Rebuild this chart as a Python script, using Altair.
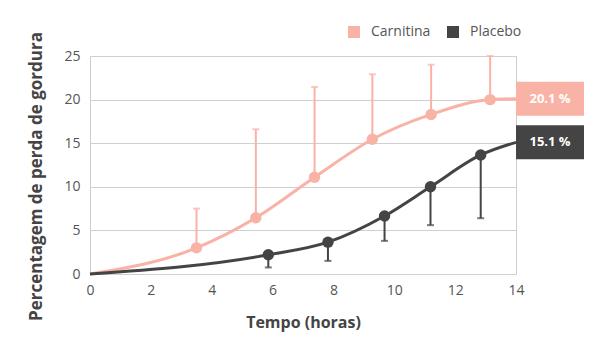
import altair as alt
import pandas as pd

# ---- data ----
series = ["Carnitina", "Placebo"]
colors = ["#F9B2A6", "#444444"]

carn_x = [3.5, 5.45, 7.38, 9.28, 11.21, 13.15]
carn_y = [3.0, 6.45, 11.1, 15.45, 18.3, 20.0]
carn_hi = [7.5, 16.6, 21.45, 22.9, 24.0, 25.0]

plac_x = [5.86, 7.82, 9.68, 11.19, 12.84]
plac_y = [2.2, 3.65, 6.65, 10.0, 13.65]
plac_lo = [0.75, 1.5, 3.8, 5.6, 6.4]

start_x, start_y = 0, 0
end_x = 14
carn_end = 20.1
plac_end = 15.1

# ---- tables ----
pts = pd.DataFrame(
    [{"s": "Carnitina", "x": x, "y": y, "e": e} for x, y, e in zip(carn_x, carn_y, carn_hi)]
    + [{"s": "Placebo", "x": x, "y": y, "e": e} for x, y, e in zip(plac_x, plac_y, plac_lo)]
)
curve = pd.DataFrame(
    [{"s": "Carnitina", "x": start_x, "y": start_y}]
    + [{"s": "Carnitina", "x": x, "y": y} for x, y in zip(carn_x, carn_y)]
    + [{"s": "Carnitina", "x": end_x, "y": carn_end}]
    + [{"s": "Placebo", "x": start_x, "y": start_y}]
    + [{"s": "Placebo", "x": x, "y": y} for x, y in zip(plac_x, plac_y)]
    + [{"s": "Placebo", "x": end_x, "y": plac_end}]
)
ends = pd.DataFrame(
    [
        {"s": "Carnitina", "x": end_x, "y": carn_end, "t": f"{carn_end} %"},
        {"s": "Placebo", "x": end_x, "y": plac_end, "t": f"{plac_end} %"},
    ]
)

xs = alt.Scale(domain=[0, 14], nice=False)
ys = alt.Scale(domain=[0, 25], nice=False)
cs = alt.Scale(domain=series, range=colors)

X = alt.X(
    "x:Q",
    scale=xs,
    title="Tempo (horas)",
    axis=alt.Axis(values=[0, 2, 4, 6, 8, 10, 12, 14], grid=False, domain=False, ticks=False,
                  labelPadding=9, titlePadding=17, labelFlush=False, titleFontSize=16),
)
Y = alt.Y(
    "y:Q",
    scale=ys,
    title="Percentagem de perda de gordura",
    axis=alt.Axis(values=[0, 5, 10, 15, 20, 25], grid=True, domain=False, ticks=False,
                  labelPadding=10, titlePadding=18, labelFlush=False, titleFontSize=17,
                  titleY=120),
)

COLOR = alt.Color(
    "s:N",
    scale=cs,
    title=None,
    legend=alt.Legend(
        orient="none", direction="horizontal", legendX=257, legendY=-31,
        symbolType="square", symbolSize=144, symbolStrokeWidth=0, symbolOpacity=1,
        labelFontSize=14, labelColor="#555555",
        labelFont="Open Sans", columnPadding=15, labelOffset=10,
    ),
)

line = alt.Chart(curve).mark_line(interpolate="monotone", strokeWidth=3).encode(
    x=X, y=Y, color=COLOR, detail="s:N"
)

err = alt.Chart(pts).mark_rule(strokeWidth=2).encode(
    x="x:Q", y="y:Q", y2="e:Q", color=COLOR
)
caps = alt.Chart(pts).mark_tick(orient="horizontal", size=7, thickness=2).encode(
    x="x:Q", y="e:Q", color=COLOR
)

dots = alt.Chart(pts).mark_circle(size=130, opacity=1).encode(
    x="x:Q", y="y:Q", color=COLOR
)

boxes = alt.Chart(ends).mark_point(
    shape="M0,-0.5H2V0.5H0Z", size=68 * 68, filled=True, opacity=1, strokeWidth=0
).encode(x="x:Q", y="y:Q", color=COLOR)

labels = alt.Chart(ends).mark_text(
    color="white", fontWeight="bold", fontSize=13, font="Open Sans", dx=34, align="center",
    baseline="middle",
).encode(x="x:Q", y="y:Q", text="t:N")

chart = (
    alt.layer(line, err, caps, dots, boxes, labels)
    .properties(
        width=426,
        height=218,
        autosize=alt.AutoSizeParams(type="none"),
        padding={"left": 82, "top": 48, "right": 85, "bottom": 74},
        background="white",
    )
    .configure_view(stroke="#CCCCCC", strokeWidth=1)
    .configure_axis(
        labelFont="Open Sans", labelFontSize=14, labelColor="#555555",
        titleFont="Open Sans", titleFontWeight="bold", titleColor="#444444",
        gridColor="#D0D0D0", gridWidth=1,
    )
)

chart.save("out.html", embed_options={"renderer": "svg", "actions": False})
